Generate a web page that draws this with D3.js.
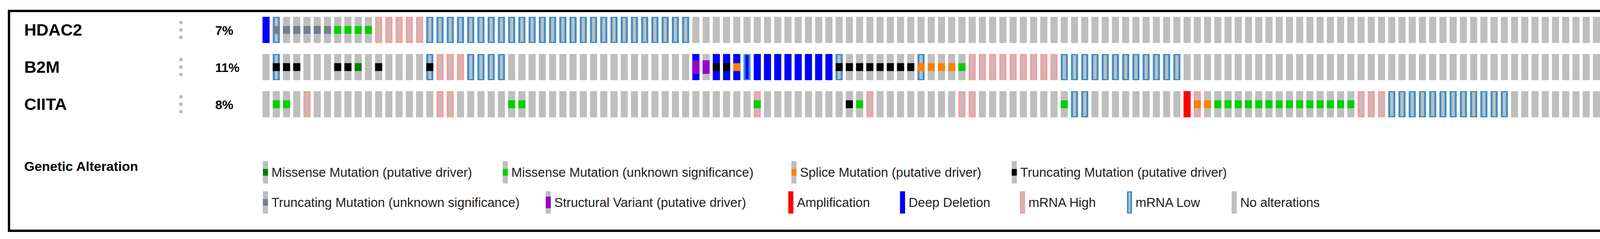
<!DOCTYPE html>
<html>
<head>
<meta charset="utf-8">
<script src="https://cdn.jsdelivr.net/npm/d3@7"></script>
<style>
  body { margin: 0; background: #fff; overflow: hidden; }
  svg { display: block; }
  text { font-family: "Liberation Sans", Arial, sans-serif; }
</style>
</head>
<body>
<svg id="chart"></svg>
<script>
const width = 4302;
const height = 611;

const genes = ["HDAC2", "B2M", "CIITA"];
const percents = ["7%", "11%", "8%"];
const nSamples = 137;

// alteration -> sample indices per gene
const hdac2 = {
    deepDel: [0],
    mrnaLow: [1, 16, 17, 18, 19, 20, 21, 22, 23, 24, 25, 26, 27, 28, 29, 30, 31, 32, 33, 34, 35, 36, 37, 38, 39, 40, 41],
    mrnaHigh: [11, 12, 13, 14, 15],
    truncUnk: [1, 2, 3, 4, 5, 6],
    missUnk: [7, 8, 9, 10]
};
const b2m = {
    mrnaLow: [1, 16, 20, 21, 22, 23, 47, 56, 64, 78, 79, 80, 81, 82, 83, 84, 85, 86, 87, 88, 89],
    mrnaHigh: [17, 18, 19, 69, 70, 71, 72, 73, 74, 75, 76, 77],
    deepDel: [42, 44, 45, 46, 47, 48, 49, 50, 51, 52, 53, 54, 55],
    sv: [42, 43],
    truncDrv: [1, 2, 3, 7, 8, 11, 16, 44, 45, 56, 57, 58, 59, 60, 61, 62, 63],
    missDrv: [9],
    splice: [46, 64, 65, 66, 67],
    missUnk: [68]
};
const ciita = {
    mrnaLow: [79, 80, 110, 111, 112, 113, 114, 115, 116, 117, 118, 119, 120, 121],
    mrnaHigh: [4, 17, 18, 48, 59, 68, 69, 91, 107, 108, 109],
    amp: [90],
    truncDrv: [57],
    splice: [91, 92],
    missUnk: [1, 2, 24, 25, 48, 58, 78, 93, 94, 95, 96, 97, 98, 99, 100, 101, 102, 103, 104, 105, 106]
};
const geneData = [hdac2, b2m, ciita];

const colors = {
    none: "#bebebe",
    missDrv: "#008000",
    missUnk: "#00d000",
    splice: "#ff8000",
    truncDrv: "#000000",
    truncUnk: "#708090",
    sv: "#9a00c8",
    amp: "#ff0000",
    deepDel: "#0000ff",
    mrnaHigh: "#ff9b9b",
    mrnaLow: "#3b8fcf"
};

const legendRow1 = [
    ["missDrv", "Missense Mutation (putative driver)"],
    ["missUnk", "Missense Mutation (unknown significance)"],
    ["splice", "Splice Mutation (putative driver)"],
    ["truncDrv", "Truncating Mutation (putative driver)"]
];
const legendRow2 = [
    ["truncUnk", "Truncating Mutation (unknown significance)"],
    ["sv", "Structural Variant (putative driver)"],
    ["amp", "Amplification"],
    ["deepDel", "Deep Deletion"],
    ["mrnaHigh", "mRNA High"],
    ["mrnaLow", "mRNA Low"],
    ["none", "No alterations"]
];
const legendX1 = [673, 1287, 2026, 2590];
const legendX2 = [673, 1397, 2018, 2304, 2611, 2885, 3153];

const svg = d3.select("#chart").attr("width", width).attr("height", height);

svg.append("rect")
    .attr("x", 23).attr("y", 28)
    .attr("width", 4257).attr("height", 562)
    .attr("fill", "none").attr("stroke", "#000").attr("stroke-width", 6);

const x = d3.scaleBand()
    .domain(d3.range(nSamples))
    .range([672, 672 + 136 * 26.2 + 18])
    .paddingInner(8 / 26.2);
const y = d3.scaleBand()
    .domain(genes)
    .range([43, 300])
    .paddingInner(28 / 95);

const bw = x.bandwidth();
const bh = y.bandwidth();

genes.forEach((g, gi) => {
    const row = svg.append("g").attr("transform", `translate(0, ${y(g)})`);
    const d = geneData[gi];
    const has = (k, i) => (d[k] || []).includes(i);

    svg.append("text")
        .attr("x", 62).attr("y", y(g) + bh / 2 + 14)
        .style("font-size", "43px").style("font-weight", "bold")
        .text(g);
    [-19, 0, 19].forEach(dy => {
        svg.append("circle")
            .attr("cx", 463).attr("cy", y(g) + bh / 2 + dy)
            .attr("r", 4.5).attr("fill", "#bbb");
    });
    svg.append("text")
        .attr("x", 551).attr("y", y(g) + bh / 2 + 12)
        .style("font-size", "32px").style("font-weight", "bold")
        .text(percents[gi]);

    const cells = row.selectAll("g.cell")
        .data(d3.range(nSamples))
        .enter().append("g")
        .attr("class", "cell")
        .attr("transform", i => `translate(${x(i)}, 0)`);

    cells.each(function(i) {
        const c = d3.select(this);
        const expr = has("mrnaLow", i) ? "mrnaLow" : has("mrnaHigh", i) ? "mrnaHigh" : null;
        if (expr) {
            c.append("rect").attr("width", bw).attr("height", bh).attr("fill", colors[expr]);
            c.append("rect").attr("x", 5).attr("y", 3).attr("width", bw - 10).attr("height", bh - 6)
                .attr("fill", colors.none);
        } else {
            c.append("rect").attr("width", bw).attr("height", bh).attr("fill", colors.none);
        }
        const cna = has("amp", i) ? "amp" : has("deepDel", i) ? "deepDel" : null;
        if (cna) {
            if (expr) {
                c.append("rect").attr("x", 5).attr("y", 3).attr("width", bw - 10).attr("height", bh - 6)
                    .attr("fill", colors[cna]);
            } else {
                c.append("rect").attr("width", bw).attr("height", bh).attr("fill", colors[cna]);
            }
        }
        if (has("sv", i)) {
            c.append("rect").attr("y", bh * 0.24).attr("width", bw).attr("height", bh * 0.52)
                .attr("fill", colors.sv);
        }
        const mut = ["missDrv", "missUnk", "splice", "truncDrv", "truncUnk"].find(k => has(k, i));
        if (mut) {
            c.append("rect").attr("y", bh * 0.35).attr("width", bw).attr("height", bh * 0.3)
                .attr("fill", colors[mut]);
        }
    });
});

svg.append("text")
    .attr("x", 62).attr("y", 437)
    .style("font-size", "34px").style("font-weight", "bold")
    .text("Genetic Alteration");

function legendIcon(g, key) {
    const w = 13, h = 57;
    if (key === "mrnaHigh" || key === "mrnaLow") {
        g.append("rect").attr("width", w).attr("height", h).attr("fill", colors[key]);
        g.append("rect").attr("x", 4).attr("y", 3).attr("width", w - 8).attr("height", h - 6).attr("fill", colors.none);
    } else if (key === "amp" || key === "deepDel" || key === "none") {
        g.append("rect").attr("width", w).attr("height", h).attr("fill", colors[key]);
    } else if (key === "sv") {
        g.append("rect").attr("width", w).attr("height", h).attr("fill", colors.none);
        g.append("rect").attr("y", h * 0.24).attr("width", w).attr("height", h * 0.52).attr("fill", colors.sv);
    } else {
        g.append("rect").attr("width", w).attr("height", h).attr("fill", colors.none);
        g.append("rect").attr("y", h * 0.35).attr("width", w).attr("height", h * 0.3).attr("fill", colors[key]);
    }
}

[[legendRow1, legendX1, 412], [legendRow2, legendX2, 489]].forEach(([items, xs, top]) => {
    items.forEach(([key, label], i) => {
        const g = svg.append("g").attr("transform", `translate(${xs[i]}, ${top})`);
        legendIcon(g, key);
        g.append("text")
            .attr("x", 22).attr("y", 40)
            .style("font-size", "33px").style("fill", "#222")
            .text(label);
    });
});
</script>
</body>
</html>
